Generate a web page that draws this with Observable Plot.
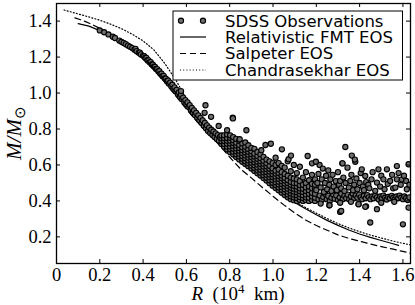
<!DOCTYPE html>
<html>
<head>
<meta charset="utf-8">
<script src="https://cdn.jsdelivr.net/npm/d3@7"></script>
<script src="https://cdn.jsdelivr.net/npm/@observablehq/plot@0.6"></script>
<style>
  html, body { margin: 0; padding: 0; background: white; }
</style>
</head>
<body>
<div id="chart"></div>
<script>
// ---- Tick values ----
const xTicks = [0, 0.2, 0.4, 0.6, 0.8, 1.0, 1.2, 1.4, 1.6];
const yTicks = [0.2, 0.4, 0.6, 0.8, 1.0, 1.2, 1.4];

// ---- Legend labels ----
const legendLabels = ["SDSS Observations", "Relativistic FMT EOS", "Salpeter EOS", "Chandrasekhar EOS"];

// ---- Theory curves: radius R (10^4 km) and mass M/Msun ----
const fmtR = [0.10, 0.15, 0.20, 0.25, 0.30, 0.35, 0.40, 0.45, 0.50, 0.55, 0.60, 0.65, 0.70, 0.75, 0.80, 0.85, 0.90, 0.95, 1.00, 1.05, 1.10, 1.15, 1.20, 1.25, 1.30, 1.35, 1.40, 1.45, 1.50, 1.55, 1.58];
const fmtM = [1.386, 1.372, 1.347, 1.318, 1.283, 1.248, 1.205, 1.145, 1.078, 1.008, 0.935, 0.860, 0.785, 0.722, 0.668, 0.620, 0.575, 0.528, 0.478, 0.432, 0.392, 0.356, 0.323, 0.292, 0.264, 0.238, 0.216, 0.197, 0.180, 0.163, 0.153];

const salR = [0.085, 0.12, 0.16, 0.20, 0.25, 0.30, 0.35, 0.40, 0.45, 0.50, 0.55, 0.60, 0.65, 0.70, 0.75, 0.80, 0.85, 0.90, 0.95, 1.00, 1.05, 1.10, 1.15, 1.20, 1.25, 1.30, 1.35, 1.40, 1.45, 1.50, 1.55, 1.60, 1.635];
const salM = [1.418, 1.404, 1.384, 1.360, 1.326, 1.287, 1.242, 1.190, 1.128, 1.060, 0.985, 0.910, 0.840, 0.776, 0.714, 0.643, 0.578, 0.528, 0.476, 0.426, 0.378, 0.333, 0.294, 0.263, 0.237, 0.211, 0.192, 0.176, 0.160, 0.146, 0.133, 0.119, 0.109];

const chaR = [0.035, 0.10, 0.15, 0.20, 0.25, 0.30, 0.35, 0.40, 0.45, 0.50, 0.55, 0.60, 0.65, 0.70, 0.75, 0.80, 0.85, 0.90, 0.95, 1.00, 1.05, 1.10, 1.15, 1.20, 1.25, 1.30, 1.35, 1.40, 1.45, 1.50, 1.55, 1.60, 1.635];
const chaM = [1.462, 1.440, 1.423, 1.405, 1.383, 1.358, 1.327, 1.290, 1.240, 1.165, 1.075, 0.968, 0.880, 0.800, 0.734, 0.680, 0.632, 0.587, 0.539, 0.489, 0.440, 0.398, 0.363, 0.332, 0.302, 0.274, 0.250, 0.229, 0.210, 0.194, 0.178, 0.164, 0.156];

// ---- SDSS observations ----
const sdssBranch = [
  [0.20, 1.348], [0.22, 1.338], [0.24, 1.326], [0.26, 1.313], [0.27, 1.306], [0.29, 1.292],
  [0.30, 1.285], [0.31, 1.279], [0.32, 1.272], [0.33, 1.264], [0.34, 1.257], [0.35, 1.250],
  [0.36, 1.241], [0.365, 1.246], [0.37, 1.233], [0.38, 1.224], [0.385, 1.225], [0.39, 1.215],
  [0.40, 1.207], [0.405, 1.205], [0.41, 1.195], [0.415, 1.196], [0.42, 1.183], [0.425, 1.182],
  [0.43, 1.171], [0.435, 1.172], [0.44, 1.159], [0.445, 1.158], [0.45, 1.147], [0.455, 1.146],
  [0.46, 1.134], [0.465, 1.133], [0.47, 1.121], [0.475, 1.122], [0.48, 1.107], [0.485, 1.108],
  [0.49, 1.094], [0.495, 1.096], [0.50, 1.081],
  [0.505, 1.080], [0.51, 1.066], [0.515, 1.070], [0.52, 1.052], [0.525, 1.058], [0.53, 1.038],
  [0.535, 1.046], [0.54, 1.024], [0.545, 1.032], [0.55, 1.010], [0.555, 1.018], [0.56, 0.995],
  [0.565, 1.004], [0.57, 0.980], [0.575, 0.990], [0.58, 0.965], [0.585, 0.975], [0.59, 0.950],
  [0.595, 0.961], [0.60, 0.937], [0.605, 0.948], [0.61, 0.922], [0.615, 0.933], [0.62, 0.907],
  [0.625, 0.918], [0.63, 0.892], [0.635, 0.904], [0.64, 0.877], [0.645, 0.890], [0.65, 0.862],
  [0.655, 0.876], [0.66, 0.848], [0.665, 0.862], [0.67, 0.833], [0.675, 0.848], [0.68, 0.818],
  [0.685, 0.834], [0.69, 0.804], [0.695, 0.820], [0.70, 0.789], [0.705, 0.808], [0.71, 0.778],
  [0.715, 0.796], [0.72, 0.767], [0.725, 0.786], [0.73, 0.756], [0.735, 0.776], [0.74, 0.745],
  [0.745, 0.766], [0.75, 0.735], [0.755, 0.756]
];

const sdssWedge = [
  [0.762, 0.716, 0.732, 0.748, 0.764],
  [0.774, 0.701, 0.717, 0.733, 0.749, 0.765],
  [0.788, 0.686, 0.702, 0.718, 0.734, 0.750, 0.770],
  [0.802, 0.671, 0.687, 0.703, 0.719, 0.735, 0.751, 0.765],
  [0.816, 0.658, 0.674, 0.690, 0.706, 0.722, 0.738, 0.755],
  [0.830, 0.644, 0.660, 0.676, 0.692, 0.708, 0.724, 0.745],
  [0.844, 0.631, 0.647, 0.663, 0.679, 0.695, 0.711, 0.735],
  [0.858, 0.618, 0.634, 0.650, 0.666, 0.682, 0.698, 0.720],
  [0.872, 0.605, 0.621, 0.637, 0.653, 0.669, 0.685, 0.701, 0.725],
  [0.886, 0.593, 0.609, 0.625, 0.641, 0.657, 0.673, 0.689, 0.710],
  [0.900, 0.580, 0.596, 0.612, 0.628, 0.644, 0.660, 0.676, 0.695],
  [0.914, 0.567, 0.583, 0.599, 0.615, 0.631, 0.647, 0.663, 0.690],
  [0.928, 0.554, 0.570, 0.586, 0.602, 0.618, 0.634, 0.650, 0.672],
  [0.942, 0.541, 0.557, 0.573, 0.589, 0.605, 0.621, 0.637, 0.660],
  [0.956, 0.527, 0.543, 0.559, 0.575, 0.591, 0.607, 0.623, 0.645],
  [0.970, 0.513, 0.529, 0.545, 0.561, 0.577, 0.593, 0.609, 0.630],
  [0.984, 0.499, 0.515, 0.531, 0.547, 0.563, 0.579, 0.595, 0.620],
  [0.998, 0.485, 0.501, 0.517, 0.533, 0.549, 0.565, 0.581, 0.610],
  [1.012, 0.472, 0.488, 0.504, 0.520, 0.536, 0.552, 0.568, 0.600, 0.640],
  [1.026, 0.459, 0.475, 0.491, 0.507, 0.523, 0.539, 0.555, 0.575, 0.610],
  [1.040, 0.446, 0.462, 0.478, 0.494, 0.510, 0.526, 0.542, 0.560, 0.595],
  [1.054, 0.433, 0.449, 0.465, 0.481, 0.497, 0.513, 0.529, 0.550, 0.585],
  [1.068, 0.420, 0.436, 0.452, 0.468, 0.484, 0.500, 0.516, 0.540, 0.620],
  [1.082, 0.410, 0.426, 0.442, 0.458, 0.474, 0.490, 0.506, 0.530, 0.565],
  [1.096, 0.404, 0.420, 0.436, 0.452, 0.468, 0.484, 0.500, 0.525, 0.600],
  [1.110, 0.400, 0.416, 0.432, 0.448, 0.464, 0.480, 0.498, 0.520, 0.555],
  [1.124, 0.406, 0.422, 0.438, 0.454, 0.470, 0.488, 0.510, 0.590],
  [1.138, 0.400, 0.416, 0.432, 0.450, 0.468, 0.490, 0.530],
  [1.152, 0.404, 0.420, 0.436, 0.455, 0.475, 0.500, 0.560],
  [1.166, 0.400, 0.418, 0.440, 0.460, 0.480, 0.515],
  [1.180, 0.405, 0.425, 0.445, 0.470, 0.495, 0.545],
  [1.194, 0.400, 0.418, 0.440, 0.465, 0.490, 0.520]
];

const sdssTail = [
  // dense stripe near M ~ 0.41-0.44
  [1.21, 0.41], [1.215, 0.43], [1.225, 0.405], [1.232, 0.422], [1.24, 0.44], [1.248, 0.41],
  [1.255, 0.428], [1.262, 0.40], [1.27, 0.418], [1.278, 0.436], [1.285, 0.412], [1.292, 0.43],
  [1.30, 0.405], [1.308, 0.42], [1.315, 0.44], [1.322, 0.41], [1.33, 0.428], [1.338, 0.415],
  [1.345, 0.435], [1.352, 0.41], [1.36, 0.425], [1.368, 0.44], [1.375, 0.415], [1.382, 0.43],
  [1.39, 0.418], [1.398, 0.435], [1.405, 0.42], [1.412, 0.41], [1.42, 0.428], [1.428, 0.415],
  [1.435, 0.432], [1.442, 0.42], [1.45, 0.41], [1.458, 0.425], [1.465, 0.415], [1.472, 0.43],
  [1.48, 0.42], [1.488, 0.408], [1.495, 0.425], [1.502, 0.415], [1.51, 0.43], [1.518, 0.418],
  [1.525, 0.408], [1.532, 0.422], [1.54, 0.415], [1.548, 0.428], [1.555, 0.418], [1.562, 0.41],
  [1.57, 0.425], [1.578, 0.415], [1.585, 0.43], [1.592, 0.418], [1.60, 0.41], [1.607, 0.425],
  [1.615, 0.415], [1.622, 0.405], [1.63, 0.42],
  [1.22, 0.385], [1.26, 0.376], [1.31, 0.39], [1.36, 0.395], [1.395, 0.382], [1.43, 0.37],
  [1.50, 0.39], [1.56, 0.395],
  // looser band M ~ 0.45-0.62
  [1.20, 0.46], [1.205, 0.50], [1.21, 0.55], [1.215, 0.60], [1.22, 0.475], [1.225, 0.52],
  [1.23, 0.58], [1.235, 0.45], [1.24, 0.50], [1.245, 0.54], [1.25, 0.465], [1.255, 0.57],
  [1.26, 0.49], [1.265, 0.52], [1.27, 0.455], [1.275, 0.545], [1.28, 0.48], [1.29, 0.51],
  [1.295, 0.46], [1.30, 0.56], [1.305, 0.49], [1.31, 0.511], [1.315, 0.47], [1.32, 0.609],
  [1.325, 0.53], [1.33, 0.455], [1.335, 0.50], [1.344, 0.585], [1.35, 0.475], [1.357, 0.511],
  [1.362, 0.545], [1.37, 0.46], [1.375, 0.49], [1.38, 0.618], [1.385, 0.525], [1.39, 0.465],
  [1.40, 0.50], [1.405, 0.555], [1.41, 0.576], [1.415, 0.48], [1.42, 0.46], [1.426, 0.539],
  [1.43, 0.505], [1.44, 0.49], [1.445, 0.47], [1.455, 0.52], [1.46, 0.56], [1.472, 0.456],
  [1.48, 0.502], [1.487, 0.576], [1.495, 0.48], [1.50, 0.54], [1.51, 0.52], [1.515, 0.465],
  [1.526, 0.576], [1.53, 0.495], [1.541, 0.511], [1.55, 0.545], [1.555, 0.47], [1.565, 0.474],
  [1.572, 0.52], [1.572, 0.594], [1.58, 0.555], [1.59, 0.49], [1.595, 0.52], [1.605, 0.54],
  [1.615, 0.511], [1.618, 0.465], [1.626, 0.604], [1.63, 0.49]
];

const sdssOutliers = [
  [0.575, 1.011], [0.684, 0.890], [0.688, 0.932], [0.714, 0.868], [0.749, 0.817],
  [0.788, 0.793], [0.814, 0.863], [0.815, 0.859], [0.846, 0.743], [0.877, 0.793],
  [0.946, 0.682], [0.965, 0.711], [0.990, 0.718], [1.041, 0.687], [1.072, 0.632],
  [1.083, 0.652], [1.160, 0.650], [1.180, 0.609], [1.198, 0.618], [1.334, 0.700],
  [1.364, 0.652], [1.378, 0.630], [1.321, 0.609],
  [1.261, 0.376], [1.310, 0.339], [1.315, 0.344], [1.395, 0.382], [1.426, 0.367],
  [1.449, 0.280], [1.480, 0.354], [1.600, 0.270], [1.626, 0.363]
];

// ---- Build tables ----
const sdss = [
  ...sdssBranch,
  ...sdssWedge.flatMap(([r, ...ms]) => ms.map(m => [r, m])),
  ...sdssTail,
  ...sdssOutliers
];
const fmt = fmtR.map((r, i) => ({r, m: fmtM[i]}));
const sal = salR.map((r, i) => ({r, m: salM[i]}));
const cha = chaR.map((r, i) => ({r, m: chaM[i]}));

const W = 415, H = 305;
const mL = 56, mR = 5, mT = 3, mB = 42;
const fw = W - mL - mR, fh = H - mT - mB;
const tickLen = 4;
const dotFill = "#6e6e6e", dotStroke = "#000";

const svg = Plot.plot({
  width: W, height: H,
  marginLeft: mL, marginRight: mR, marginTop: mT, marginBottom: mB,
  x: {domain: [0, 1.635], label: null},
  y: {domain: [0.052, 1.498], label: null},
  style: {background: "white", fontFamily: "'Liberation Serif', serif", fontSize: "18.5px", color: "black"},
  marks: [
    Plot.line(cha, {x: "r", y: "m", stroke: "black", strokeWidth: 1.2, strokeDasharray: "1,2.2", clip: true}),
    Plot.line(sal, {x: "r", y: "m", stroke: "black", strokeWidth: 1.2, strokeDasharray: "6,4", clip: true}),
    Plot.line(fmt, {x: "r", y: "m", stroke: "black", strokeWidth: 1.2, clip: true}),
    Plot.dot(sdss, {x: d => d[0], y: d => d[1], r: 2.6, fill: dotFill, stroke: dotStroke, strokeWidth: 1.1, clip: true}),
    // inward ticks on all four sides
    Plot.tickX(xTicks, {x: d => d, insetTop: fh - tickLen, stroke: "black", strokeWidth: 1}),
    Plot.tickX(xTicks, {x: d => d, insetBottom: fh - tickLen, stroke: "black", strokeWidth: 1}),
    Plot.tickY(yTicks, {y: d => d, insetRight: fw - tickLen, stroke: "black", strokeWidth: 1}),
    Plot.tickY(yTicks, {y: d => d, insetLeft: fw - tickLen, stroke: "black", strokeWidth: 1}),
    Plot.axisX(xTicks, {tickSize: 0, tickPadding: 4, tickFormat: d => d === 0 ? "0" : d.toFixed(1)}),
    Plot.axisY(yTicks, {tickSize: 0, tickPadding: 5, tickFormat: d => d.toFixed(1)}),
    Plot.frame({stroke: "black", strokeWidth: 1.3})
  ]
});

const s = d3.select(svg);

// ---- Legend ----
const lg = s.append("g").attr("font-family", "'DejaVu Sans', sans-serif").attr("font-size", 16.5)
  .attr("text-anchor", "start");
lg.append("rect").attr("x", 173).attr("y", 11).attr("width", 229.5).attr("height", 69)
  .attr("fill", "white").attr("stroke", "black").attr("stroke-width", 1);
const rowY = [20.7, 37, 53.5, 70];
const styles = [null, "none", "6,4", "1,2.2"];
legendLabels.forEach((lab, i) => {
  const y = rowY[i];
  if (i === 0) {
    [181, 203].forEach(x => lg.append("circle").attr("cx", x).attr("cy", y).attr("r", 2.6)
      .attr("fill", dotFill).attr("stroke", dotStroke).attr("stroke-width", 1.1));
  } else {
    const ln = lg.append("line").attr("x1", 180).attr("x2", 206).attr("y1", y).attr("y2", y)
      .attr("stroke", "black").attr("stroke-width", 1.2);
    if (styles[i] !== "none") ln.attr("stroke-dasharray", styles[i]);
  }
  lg.append("text").attr("x", 225).attr("y", y).attr("dy", "0.36em")
    .attr("text-anchor", "start").text(lab);
});

// ---- Axis labels ----
const xl = s.append("text").attr("x", 238).attr("y", 300).attr("text-anchor", "middle")
  .attr("font-family", "'Liberation Serif', serif").attr("font-size", 19)
  .attr("xml:space", "preserve").style("white-space", "pre");
xl.append("tspan").attr("font-style", "italic").text("R");
xl.append("tspan").text("  (10");
xl.append("tspan").attr("font-size", 13).attr("dy", -7).text("4");
xl.append("tspan").attr("dy", 7).text("  km)");

const yl = s.append("text").attr("transform", "translate(21,133) rotate(-90)").attr("text-anchor", "middle")
  .attr("font-family", "'Liberation Serif', serif").attr("font-size", 21);
yl.append("tspan").attr("font-style", "italic").text("M/M");
yl.append("tspan").attr("font-size", 15).attr("dy", 4).text("⊙");

document.getElementById("chart").appendChild(svg);
</script>
</body>
</html>
